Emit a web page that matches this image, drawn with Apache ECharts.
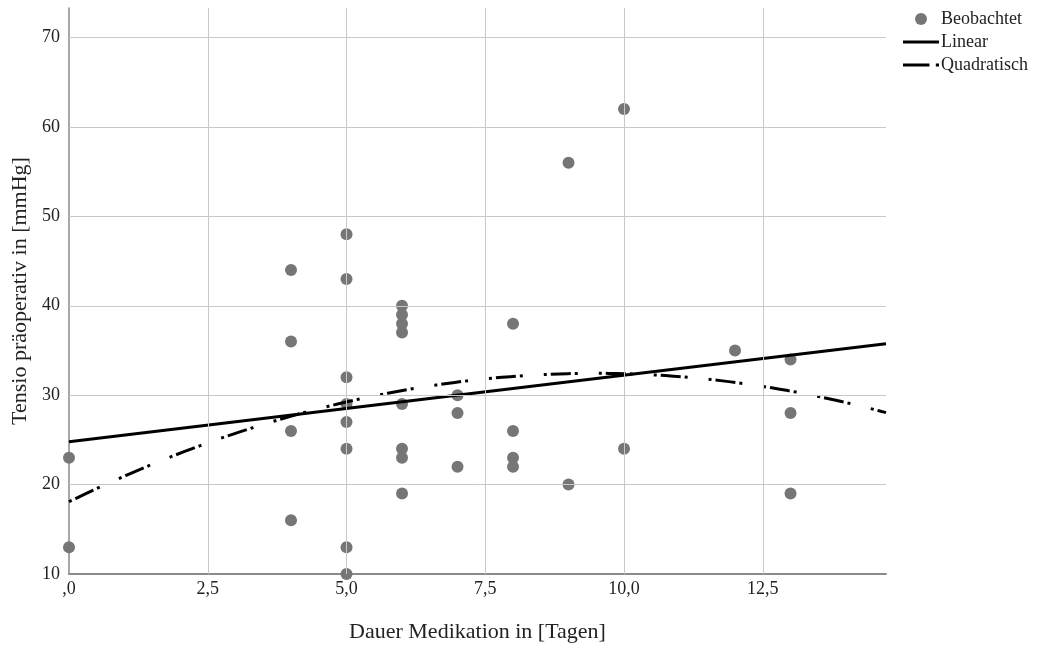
<!DOCTYPE html>
<html>
<head>
<meta charset="utf-8">
<script src="https://cdn.jsdelivr.net/npm/echarts@6/dist/echarts.min.js"></script>
<style>
html,body{margin:0;padding:0;background:#fff;}
#chart{width:1041px;height:648px;}
</style>
</head>
<body>
<div id="chart"></div>
<script>
// Observed data: duration of medication [days] and preoperative tension [mmHg]
const days = [0,0, 4,4,4,4, 5,5,5,5,5,5,5,5, 6,6,6,6,6,6,6,6, 7,7,7, 8,8,8,8, 9,9, 10,10, 12, 13,13,13];
const tension = [23,13, 44,36,26,16, 48,43,32,29,27,24,13,10, 40,39,38,37,29,24,23,19, 30,28,22, 38,26,23,22, 56,20, 62,24, 35, 34,28,19];
const xTicks = [0, 2.5, 5, 7.5, 10, 12.5];
const yTicks = [10, 20, 30, 40, 50, 60, 70];
const seriesNames = ['Beobachtet', 'Linear', 'Quadratisch'];
const xMax = 14.72;
const yMax = 73.3;

// Least-squares fits computed from the observed data
function solve3(A, b) {
  const M = A.map((r, i) => r.concat([b[i]]));
  for (let i = 0; i < 3; i++) {
    let p = i;
    for (let k = i + 1; k < 3; k++) if (Math.abs(M[k][i]) > Math.abs(M[p][i])) p = k;
    [M[i], M[p]] = [M[p], M[i]];
    for (let k = 0; k < 3; k++) {
      if (k === i) continue;
      const f = M[k][i] / M[i][i];
      for (let j = i; j < 4; j++) M[k][j] -= f * M[i][j];
    }
  }
  return [M[0][3] / M[0][0], M[1][3] / M[1][1], M[2][3] / M[2][2]];
}
const n = days.length;
let sx = 0, sy = 0, sxx = 0, sxy = 0, sx3 = 0, sx4 = 0, sx2y = 0;
for (let i = 0; i < n; i++) {
  const x = days[i], y = tension[i];
  sx += x; sy += y; sxx += x * x; sxy += x * y;
  sx3 += x * x * x; sx4 += x * x * x * x; sx2y += x * x * y;
}
const b1 = (n * sxy - sx * sy) / (n * sxx - sx * sx);
const a1 = (sy - b1 * sx) / n;
const q = solve3([[n, sx, sxx], [sx, sxx, sx3], [sxx, sx3, sx4]], [sy, sxy, sx2y]);

const linData = [[0, a1], [xMax, a1 + b1 * xMax]];
const quadData = [];
for (let i = 0; i <= 100; i++) {
  const x = xMax * i / 100;
  quadData.push([x, q[0] + q[1] * x + q[2] * x * x]);
}

const font = 'Liberation Serif, Times New Roman, serif';
const gridColor = '#c8c8c8';
const chart = echarts.init(document.getElementById('chart'), null, {renderer: 'canvas'});
chart.setOption({
  animation: false,
  backgroundColor: '#ffffff',
  textStyle: {fontFamily: font},
  grid: {left: 69, right: 155, top: 8, bottom: 72, containLabel: false},
  legend: {
    orient: 'vertical',
    left: 898,
    top: 5,
    itemWidth: 36,
    itemHeight: 12,
    itemGap: 5,
    symbolKeepAspect: true,
    data: [
      {name: seriesNames[0], icon: 'circle', itemStyle: {color: '#767676'}},
      {name: seriesNames[1], icon: 'path://M0,0h36v3h-36z', itemStyle: {color: '#000'}},
      {name: seriesNames[2], icon: 'path://M0,0h25v3h-25zM31,0h3v3h-3z', itemStyle: {color: '#000'}}
    ],
    textStyle: {fontFamily: font, fontSize: 18, color: '#222', padding: [0, 0, 0, -3]}
  },
  xAxis: {
    type: 'value',
    min: 0,
    max: xMax,
    interval: 2.5,
    name: 'Dauer Medikation in [Tagen]',
    nameLocation: 'middle',
    nameGap: 47,
    nameTextStyle: {fontFamily: font, fontSize: 22, color: '#222'},
    axisLine: {show: true, lineStyle: {color: '#8a8a8a', width: 2}},
    axisTick: {show: false},
    axisLabel: {
      fontFamily: font, fontSize: 18, color: '#222', margin: 6,
      showMaxLabel: false,
      formatter: function (v) {
        if (!xTicks.some(t => Math.abs(t - v) < 1e-6)) return '';
        return v === 0 ? ',0' : v.toFixed(1).replace('.', ',');
      }
    },
    splitLine: {show: false}
  },
  yAxis: {
    type: 'value',
    min: 10,
    max: yMax,
    interval: 10,
    name: 'Tensio präoperativ in [mmHg]',
    nameLocation: 'middle',
    nameGap: 36,
    nameTextStyle: {fontFamily: font, fontSize: 22, color: '#222'},
    axisLine: {show: true, lineStyle: {color: '#8a8a8a', width: 1.5}},
    axisTick: {show: false},
    axisLabel: {
      fontFamily: font, fontSize: 18, color: '#222', margin: 9,
      showMaxLabel: false,
      formatter: function (v) {
        return yTicks.indexOf(v) >= 0 ? String(v) : '';
      }
    },
    splitLine: {show: false}
  },
  series: [
    {
      name: 'grid',
      type: 'line',
      data: [],
      z: 1,
      silent: true,
      legendHoverLink: false,
      markLine: {
        silent: true,
        symbol: 'none',
        label: {show: false},
        animation: false,
        lineStyle: {color: gridColor, width: 1, type: 'solid'},
        data: xTicks.filter(v => v > 0).map(v => ({xAxis: v}))
          .concat(yTicks.filter(v => v > 10).map(v => ({yAxis: v})))
      }
    },
    {
      name: seriesNames[0],
      type: 'scatter',
      data: days.map((d, i) => [d, tension[i]]),
      symbol: 'circle',
      symbolSize: 12,
      itemStyle: {color: '#767676', opacity: 1},
      z: 2
    },
    {
      name: seriesNames[1],
      type: 'line',
      data: linData,
      symbol: 'none',
      lineStyle: {color: '#000', width: 3},
      itemStyle: {color: '#000'},
      z: 3
    },
    {
      name: seriesNames[2],
      type: 'line',
      data: quadData,
      symbol: 'none',
      smooth: false,
      lineStyle: {color: '#000', width: 3, type: [3, 4, 20, 4, 3, 21]},
      itemStyle: {color: '#000'},
      z: 3
    }
  ]
});
</script>
</body>
</html>
